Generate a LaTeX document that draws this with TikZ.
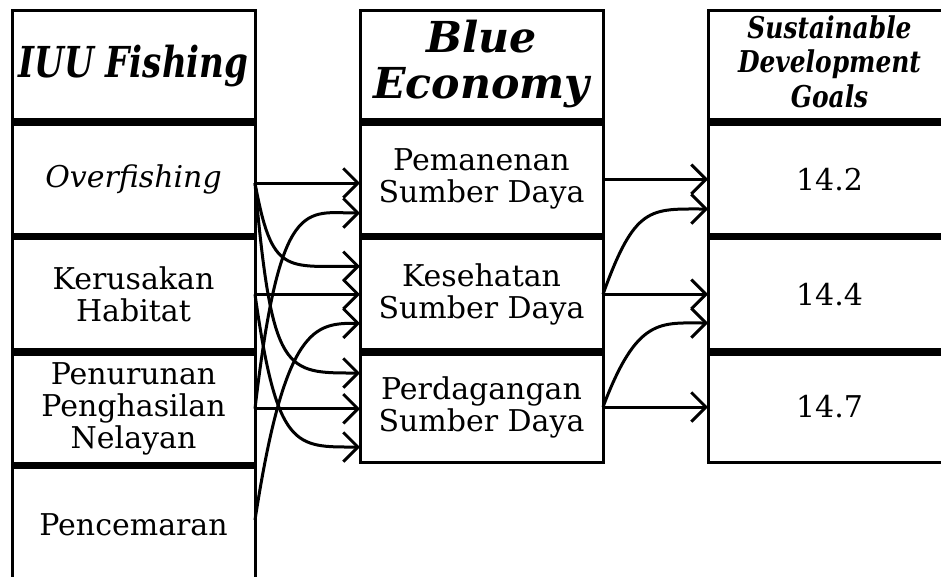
\documentclass[tikz,border=0pt]{standalone}
\usepackage{fontspec}
\setmainfont{DejaVu Serif}
\usetikzlibrary{calc,arrows.meta}
\begin{document}
\begin{tikzpicture}[x=0.75pt,y=-0.75pt,
  cell/.style={draw,line width=2.25pt,outer sep=0pt,inner sep=0pt,align=center,
    minimum width=182.25pt,font=\fontsize{22.5pt}{24pt}\selectfont},
  hdA/.style={cell,font=\fontsize{32pt}{34.5pt}\selectfont\bfseries\itshape},
  hdB/.style={cell,font=\fontsize{22.5pt}{26pt}\selectfont\bfseries\itshape},
  sepbar/.style={line width=5.6pt},
  conn/.style={line width=2.25pt,-{Straight Barb[length=11pt,width=22pt]}}]
\useasboundingbox (0,0) rectangle (941,576);
% left column
\node[hdA,minimum height=84pt] (iuu) at (133.5,66) {\scalebox{0.8}[1]{IUU Fishing}};
\node[cell,minimum height=85.875pt] (ovf) at (133.5,179.25) {\itshape Overfishing};
\node[cell,minimum height=86.625pt] (ker) at (133.5,294.25) {Kerusakan\\Habitat};
\node[cell,minimum height=85.125pt] (pen) at (133.5,408.75) {Penurunan\\Penghasilan\\Nelayan};
\node[cell,minimum height=89.625pt] (pnc) at (133.5,525.25) {Pencemaran};
% middle column
\node[hdA,minimum height=84pt] (be) at (481.5,66) {\raisebox{-6pt}{\begin{tabular}{@{}c@{}}Blue\\Economy\end{tabular}}};
\node[cell,minimum height=85.875pt] (pem) at (481.5,179.25) {Pemanenan\\Sumber Daya};
\node[cell,minimum height=86.625pt] (kes) at (481.5,294.25) {Kesehatan\\Sumber Daya};
\node[cell,minimum height=82.5pt] (per) at (481.5,407) {Perdagangan\\Sumber Daya};
% right column
\node[hdB,minimum height=84pt] (sdg) at (829.5,66) {\scalebox{0.83}[1]{\begin{tabular}{@{}c@{}}Sustainable\\Development\\Goals\end{tabular}}};
\node[cell,minimum height=85.875pt] (s142) at (829.5,179.25) {14.2};
\node[cell,minimum height=86.625pt] (s144) at (829.5,294.25) {14.4};
\node[cell,minimum height=82.5pt] (s147) at (829.5,407) {14.7};
% thick separators
\foreach \c in {ovf,ker,pen,pnc,pem,kes,per,s142,s144,s147}
  \draw[sepbar] (\c.north west) -- (\c.north east);
% left -> middle
\draw[conn] ($(ovf.east)+(0,3.75)$) -- ($(pem.west)+(0,3.75)$);
\draw[conn] ($(ovf.east)+(0,3.75)$) .. controls +(17,92) and +(-75,0) .. ($(kes.west)+(0,-28)$);
\draw[conn] ($(ovf.east)+(0,3.75)$) .. controls +(17,192) and +(-75,0) .. ($(per.west)+(0,-34)$);
\draw[conn] (ker.east) -- (kes.west);
\draw[conn] (ker.east) .. controls +(22,156) and +(-65,0) .. ($(per.west)+(0,40)$);
\draw[conn] (pen.east) -- (pen.east -| per.west);
\draw[conn] (pen.east) .. controls +(25,-214) and +(-55,0) .. ($(pem.west)+(0,33.75)$);
\draw[conn] ($(pnc.east)+(0,-5.25)$) .. controls +(30,-195) and +(-45,0) .. ($(kes.west)+(0,29)$);
% middle -> right
\draw[conn] (pem.east) -- (s142.west);
\draw[conn] (kes.east) .. controls +(32,-89) and +(-58,0) .. ($(s142.west)+(0,29.75)$);
\draw[conn] (kes.east) -- (s144.west);
\draw[conn] (per.east) .. controls +(34,-90) and +(-48,0) .. ($(s144.west)+(0,28.75)$);
\draw[conn] (per.east) -- (s147.west);
\end{tikzpicture}
\end{document}
